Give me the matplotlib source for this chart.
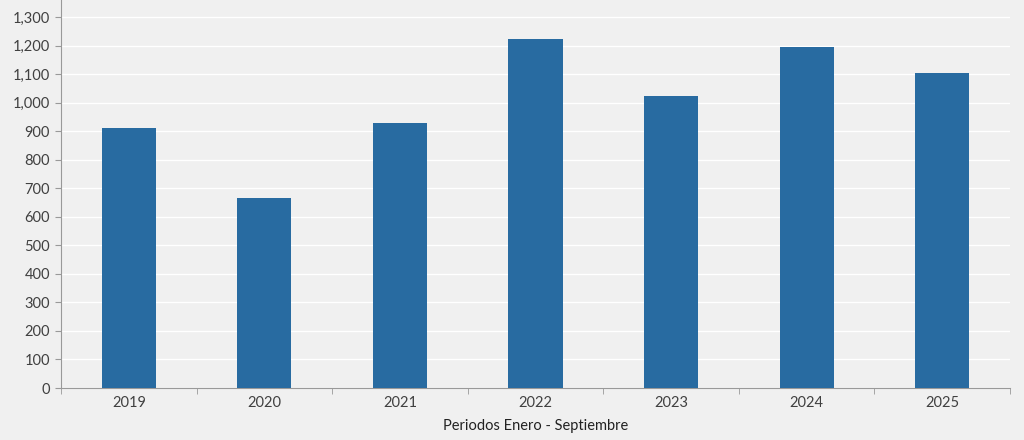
import numpy as np
import matplotlib.pyplot as plt
from matplotlib.ticker import FuncFormatter, MultipleLocator

years = ['2019', '2020', '2021', '2022', '2023', '2024', '2025']
values = [911, 665, 928, 1225, 1023, 1196, 1105]

plt.rcParams['font.family'] = ['Lato', 'DejaVu Sans']

fig = plt.figure(figsize=(10.24, 4.4), dpi=100)
fig.patch.set_facecolor('#f0f0f0')
ax = fig.add_axes([61/1024, 52/440, 949/1024, 388/440])
ax.set_facecolor('#f0f0f0')

x = np.arange(len(years))
ax.bar(x, values, width=0.4, color='#286ba1', zorder=3)

ax.set_xlim(-0.5, len(years) - 0.5)
ax.set_ylim(0, 1360)
ax.yaxis.set_major_locator(MultipleLocator(100))
ax.yaxis.set_major_formatter(FuncFormatter(lambda v, p: f'{int(v):,}'))
ax.grid(axis='y', color='white', linewidth=1, zorder=0)

# labels centred, ticks at category boundaries
ax.set_xticks(x)
ax.set_xticklabels(years)
ax.tick_params(axis='x', which='major', length=0, pad=6)
ax.set_xticks(np.arange(-0.5, len(years)), minor=True)
ax.tick_params(axis='x', which='minor', length=4, color='#999999')
ax.tick_params(axis='y', length=4, color='#999999', pad=4)
ax.tick_params(labelsize=10.5, labelcolor='#404040')

for s in ['top', 'right']:
    ax.spines[s].set_visible(False)
for s in ['left', 'bottom']:
    ax.spines[s].set_color('#999999')

ax.set_xlabel('Periodos Enero - Septiembre', fontsize=10.5, color='#222222', labelpad=6)

fig.savefig('out.png', dpi=100, facecolor=fig.get_facecolor())
